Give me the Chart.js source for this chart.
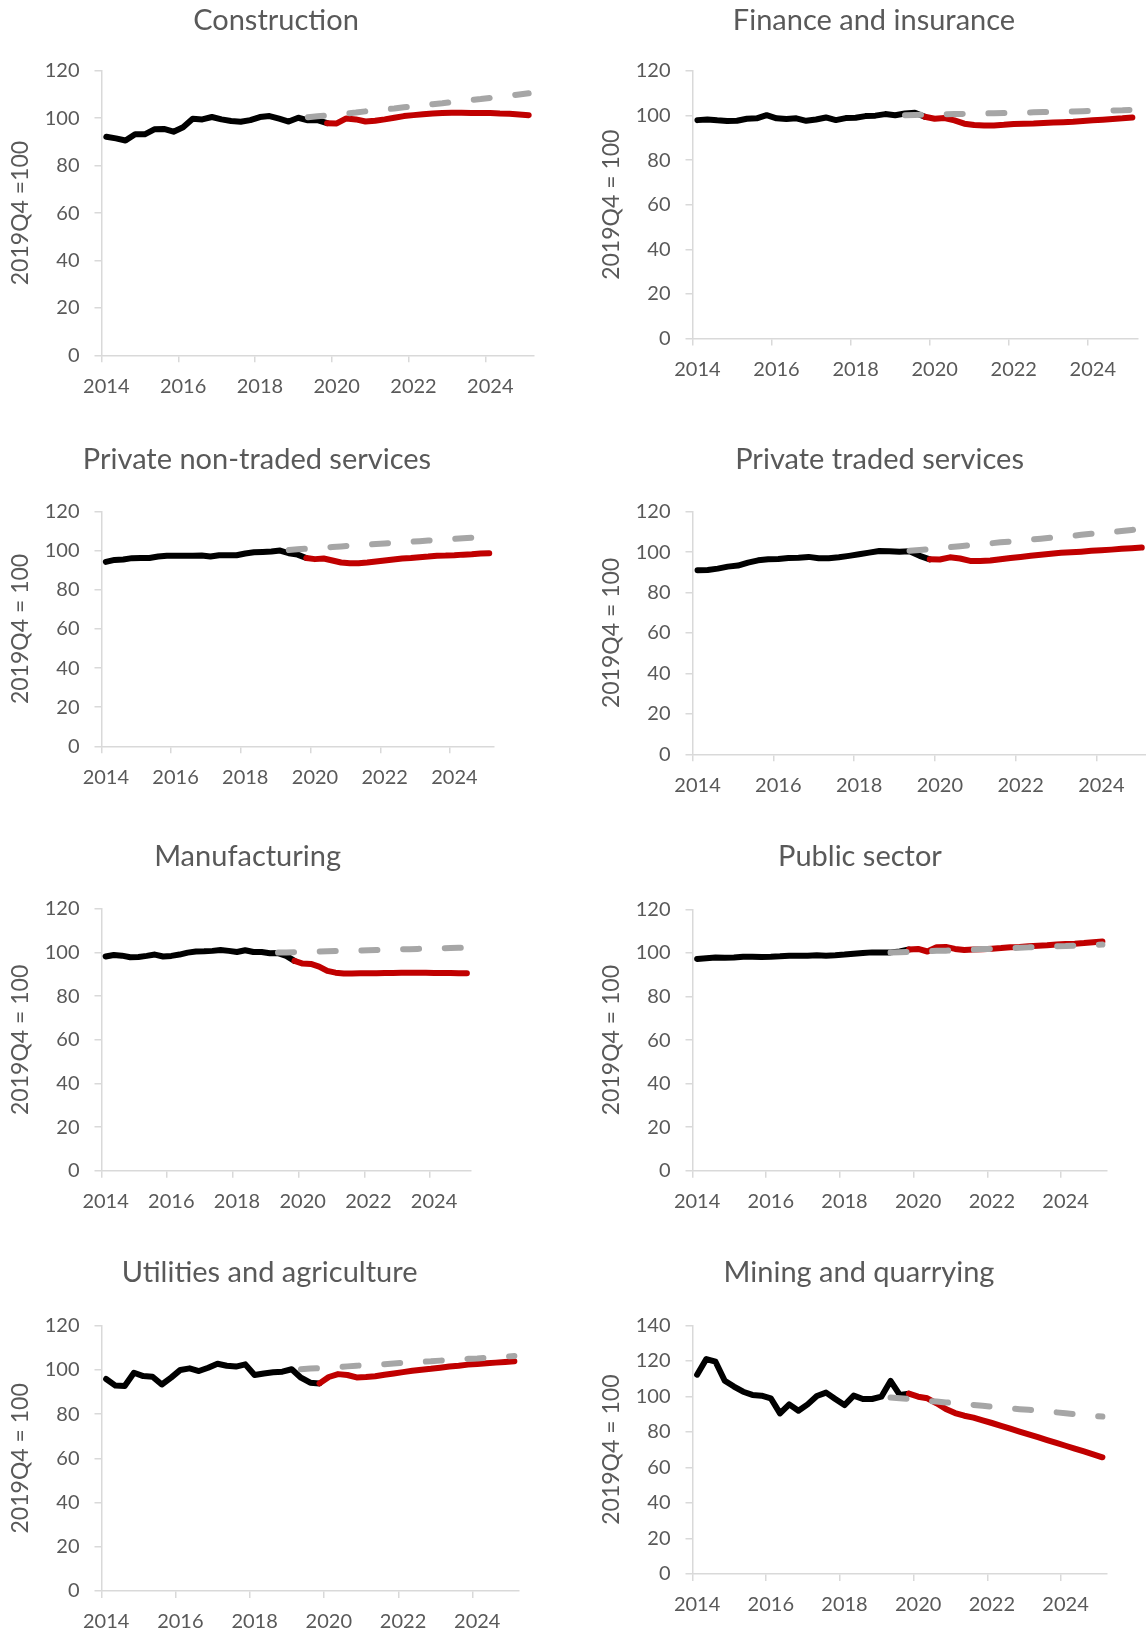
<!DOCTYPE html>
<html>
<head>
<meta charset="utf-8">
<script src="https://cdn.jsdelivr.net/npm/chart.js@4.4.1/dist/chart.umd.min.js"></script>
<style>
  html, body { margin: 0; padding: 0; background: #ffffff; }
  body { width: 1146px; height: 1634px; position: relative; overflow: hidden; }
  canvas { position: absolute; }
</style>
</head>
<body>
<script>
// Quarterly categories 2014Q1 .. 2025Q1
const years = [2014, 2015, 2016, 2017, 2018, 2019, 2020, 2021, 2022, 2023, 2024, 2025];
const quarters = [];
years.forEach(y => ['Q1', 'Q2', 'Q3', 'Q4'].forEach(q => quarters.push(y + q)));
quarters.length = 45;
const yearTicks = ['2014', '2016', '2018', '2020', '2022', '2024'];

// Output index, 2019Q4 = 100. Actual: 2014Q1-2019Q4, projection: 2019Q4-2025Q1, pre-crisis trend: 2019Q2-2025Q1
const constructionActual = [92.2, 91.5, 90.6, 93.2, 93.2, 95.3, 95.5, 94.3, 96.2, 99.8, 99.5, 100.5, 99.5, 98.8, 98.5, 99.2, 100.5, 100.9, 99.8, 98.6, 100.2, 99.1, 99.2, 97.9];
const constructionProjection = [97.9, 97.8, 99.9, 99.5, 98.6, 98.9, 99.5, 100.2, 100.9, 101.3, 101.7, 102.0, 102.2, 102.3, 102.3, 102.2, 102.2, 102.2, 102.0, 101.9, 101.6, 101.3];
const constructionTrend = [100.4, 100.8, 101.2, 101.6, 102.0, 102.4, 102.9, 103.3, 103.7, 104.1, 104.6, 105.0, 105.4, 105.9, 106.3, 106.8, 107.2, 107.7, 108.1, 108.6, 109.0, 109.5, 110.0, 110.5];

const financeActual = [97.9, 98.2, 97.8, 97.5, 97.6, 98.5, 98.7, 100.1, 98.7, 98.4, 98.7, 97.6, 98.2, 99.1, 97.9, 98.8, 99.0, 99.7, 99.9, 100.6, 100.1, 100.9, 101.2, 99.4];
const financeProjection = [99.4, 98.5, 98.8, 97.8, 96.3, 95.7, 95.5, 95.5, 95.8, 96.2, 96.3, 96.4, 96.6, 96.8, 97.0, 97.2, 97.5, 97.8, 98.1, 98.4, 98.7, 99.1];
const financeTrend = [100.1, 100.2, 100.3, 100.4, 100.5, 100.6, 100.7, 100.8, 100.9, 101.0, 101.1, 101.2, 101.3, 101.4, 101.5, 101.6, 101.7, 101.8, 101.9, 102.0, 102.1, 102.2, 102.3, 102.5];

const nonTradedActual = [94.3, 95.3, 95.5, 96.2, 96.3, 96.3, 97.0, 97.4, 97.4, 97.4, 97.4, 97.5, 97.0, 97.7, 97.7, 97.7, 98.6, 99.2, 99.4, 99.6, 100.1, 98.7, 98.0, 96.3];
const nonTradedProjection = [96.3, 95.7, 96.0, 95.0, 94.0, 93.6, 93.6, 94.0, 94.5, 95.0, 95.5, 96.0, 96.3, 96.7, 97.0, 97.4, 97.5, 97.7, 98.0, 98.2, 98.6, 98.7];
const nonTradedTrend = [100.4, 100.7, 101.0, 101.3, 101.6, 101.9, 102.2, 102.5, 102.8, 103.1, 103.4, 103.7, 104.0, 104.3, 104.6, 104.9, 105.2, 105.5, 105.8, 106.1, 106.4, 106.7, 107.0, 107.3];

const tradedActual = [91.0, 91.1, 91.8, 92.8, 93.3, 94.8, 95.9, 96.4, 96.6, 97.1, 97.2, 97.6, 96.9, 96.9, 97.4, 98.1, 98.9, 99.7, 100.5, 100.4, 100.1, 100.4, 98.1, 96.4];
const tradedProjection = [96.4, 96.3, 97.4, 96.8, 95.6, 95.6, 95.8, 96.4, 97.1, 97.6, 98.2, 98.7, 99.2, 99.6, 99.9, 100.2, 100.6, 100.9, 101.2, 101.6, 101.9, 102.2];
const tradedTrend = [100.6, 101.0, 101.5, 102.0, 102.4, 102.9, 103.4, 103.8, 104.3, 104.8, 105.2, 105.7, 106.2, 106.6, 107.1, 107.6, 108.0, 108.5, 109.0, 109.4, 109.9, 110.4, 110.9, 111.5];

const manufacturingActual = [98.2, 98.9, 98.6, 97.9, 98.0, 98.5, 99.1, 98.2, 98.5, 99.1, 100.0, 100.5, 100.6, 100.8, 101.2, 100.8, 100.3, 101.1, 100.3, 100.3, 99.7, 99.8, 98.5, 96.2];
const manufacturingProjection = [96.2, 95.0, 94.8, 93.6, 91.6, 90.8, 90.4, 90.4, 90.5, 90.5, 90.5, 90.7, 90.7, 90.8, 90.8, 90.8, 90.8, 90.7, 90.7, 90.7, 90.5, 90.5];
const manufacturingTrend = [100.0, 100.1, 100.2, 100.3, 100.4, 100.5, 100.6, 100.7, 100.8, 100.9, 101.0, 101.1, 101.2, 101.3, 101.4, 101.5, 101.6, 101.7, 101.8, 101.9, 102.0, 102.1, 102.2, 102.3];

const publicActual = [97.3, 97.6, 97.9, 97.8, 97.9, 98.3, 98.3, 98.2, 98.3, 98.5, 98.8, 98.7, 98.8, 99.0, 98.8, 99.0, 99.3, 99.7, 100.0, 100.3, 100.3, 100.3, 100.7, 101.6];
const publicProjection = [101.6, 101.9, 100.7, 102.7, 102.8, 101.9, 101.4, 101.6, 101.7, 102.0, 102.3, 102.7, 102.8, 103.1, 103.4, 103.6, 103.9, 104.2, 104.3, 104.6, 105.0, 105.3];
const publicTrend = [100.2, 100.4, 100.5, 100.7, 100.8, 101.0, 101.1, 101.3, 101.5, 101.6, 101.8, 101.9, 102.1, 102.3, 102.4, 102.6, 102.7, 102.9, 103.1, 103.2, 103.4, 103.5, 103.7, 103.9];

const utilitiesActual = [95.9, 92.9, 92.7, 98.7, 97.2, 96.9, 93.4, 96.5, 100.0, 100.7, 99.5, 101.0, 102.8, 101.9, 101.5, 102.5, 97.7, 98.4, 98.9, 99.2, 100.3, 96.5, 94.2, 93.9];
const utilitiesProjection = [93.9, 96.8, 98.1, 97.7, 96.6, 96.8, 97.1, 97.8, 98.4, 99.0, 99.6, 100.1, 100.5, 101.0, 101.5, 101.9, 102.4, 102.7, 103.0, 103.3, 103.6, 103.9];
const utilitiesTrend = [100.3, 100.6, 100.8, 101.1, 101.3, 101.6, 101.9, 102.1, 102.4, 102.6, 102.9, 103.2, 103.4, 103.7, 103.9, 104.2, 104.5, 104.7, 105.0, 105.2, 105.5, 105.8, 106.0, 106.3];

const miningActual = [112.2, 121.0, 119.5, 108.8, 105.5, 102.6, 100.8, 100.4, 98.9, 90.4, 95.5, 91.9, 95.5, 100.2, 102.1, 98.5, 95.1, 100.4, 98.5, 98.5, 99.8, 108.7, 100.8, 101.5];
const miningProjection = [101.5, 99.8, 98.9, 96.1, 92.9, 90.6, 89.1, 88.0, 86.5, 85.0, 83.4, 81.8, 80.2, 78.6, 77.0, 75.4, 73.8, 72.2, 70.6, 69.0, 67.4, 65.7];
const miningTrend = [99.4, 98.9, 98.5, 98.0, 97.5, 97.1, 96.6, 96.1, 95.6, 95.2, 94.7, 94.2, 93.8, 93.3, 92.8, 92.4, 91.9, 91.4, 91.0, 90.5, 90.0, 89.5, 89.1, 88.6];

const sectorTitles = ['Construction', 'Finance and insurance', 'Private non-traded services', 'Private traded services',
  'Manufacturing', 'Public sector', 'Utilities and agriculture', 'Mining and quarrying'];
const indexTitles = ['2019Q4 =100', '2019Q4 = 100', '2019Q4 = 100', '2019Q4 = 100',
  '2019Q4 = 100', '2019Q4 = 100', '2019Q4 = 100', '2019Q4 = 100'];
const yAxisMax = [120, 120, 120, 120, 120, 120, 120, 140];
const actualSeries = [constructionActual, financeActual, nonTradedActual, tradedActual, manufacturingActual, publicActual, utilitiesActual, miningActual];
const projectionSeries = [constructionProjection, financeProjection, nonTradedProjection, tradedProjection, manufacturingProjection, publicProjection, utilitiesProjection, miningProjection];
const trendSeries = [constructionTrend, financeTrend, nonTradedTrend, tradedTrend, manufacturingTrend, publicTrend, utilitiesTrend, miningTrend];

// Page geometry of each panel: plot box (L,R,T,B), title centre (tx,ty), axis-title centre x (yx)
const frames = [
  { x0: 0,   L: 101.5, R: 533.5,  T: 70.8,   B: 355.3,  tx: 276,   ty: 20.7,  yx: 21 },
  { x0: 573, L: 692.5, R: 1137.3, T: 70.8,   B: 338.6,  tx: 874,   ty: 20.7,  yx: 611.4 },
  { x0: 0,   L: 101.5, R: 493.6,  T: 511.6,  B: 746.3,  tx: 257,   ty: 460,   yx: 21 },
  { x0: 573, L: 692.5, R: 1146.8, T: 511.6,  B: 754.3,  tx: 879.6, ty: 460,   yx: 611.4 },
  { x0: 0,   L: 101.5, R: 471,    T: 909,    B: 1170.7, tx: 247.6, ty: 856.7, yx: 21 },
  { x0: 573, L: 692.5, R: 1107,   T: 909.5,  B: 1170.7, tx: 860,   ty: 856.7, yx: 611.4 },
  { x0: 0,   L: 101.5, R: 519,    T: 1325.7, B: 1591,   tx: 269.6, ty: 1273,  yx: 21 },
  { x0: 573, L: 692.5, R: 1107,   T: 1325.3, B: 1574,   tx: 859,   ty: 1273,  yx: 611.4 }
];

const TEXT = '#595959';
const AXIS = '#D9D9D9';
const FONT = 'Lato';
const TITLE_SIZE = 29;
const AXIS_TITLE_SIZE = 23;
const TICK_SIZE = 20;
const LINE_W = 6;

function padFront(count, values) {
  return new Array(count).fill(null).concat(values);
}

function makePanel(i) {
  const f = frames[i];
  const X0 = f.x0;
  const Y0 = Math.max(0, Math.floor(f.ty - 26));
  const W = Math.ceil(f.R - X0) + 12;
  const H = Math.ceil(f.B - Y0 + 56);
  const padRight = W - (f.R - X0);
  const padLeft = 2 * f.tx - f.R - X0;
  const yAxisWidth = (f.L - X0) - padLeft;
  const tLH = TITLE_SIZE * 1.2;
  const tPadTop = f.ty - Y0 - tLH / 2;
  const tPadBottom = (f.T - Y0) - tPadTop - tLH;
  const aLH = AXIS_TITLE_SIZE * 1.2;
  const aPad = (f.yx - X0) - padLeft - aLH / 2;
  const xAxisHeight = H - (f.B - Y0);

  const canvas = document.createElement('canvas');
  canvas.width = W;
  canvas.height = H;
  canvas.style.left = X0 + 'px';
  canvas.style.top = Y0 + 'px';
  canvas.style.width = W + 'px';
  canvas.style.height = H + 'px';
  document.body.appendChild(canvas);

  const lineBase = { pointRadius: 0, borderWidth: LINE_W, fill: false, tension: 0, clip: false, spanGaps: false };

  new Chart(canvas, {
    type: 'line',
    data: {
      labels: quarters,
      datasets: [
        Object.assign({}, lineBase, {
          label: 'Pre-crisis trend', data: padFront(21, trendSeries[i]),
          borderColor: '#A6A6A6', borderDash: [16, 25.7], borderCapStyle: 'round', borderJoinStyle: 'round'
        }),
        Object.assign({}, lineBase, {
          label: 'Projection', data: padFront(23, projectionSeries[i]),
          borderColor: '#C00000', borderCapStyle: 'round', borderJoinStyle: 'round'
        }),
        Object.assign({}, lineBase, {
          label: 'Actual', data: actualSeries[i],
          borderColor: '#000000', borderCapStyle: 'round', borderJoinStyle: 'round'
        })
      ]
    },
    options: {
      responsive: false,
      animation: false,
      devicePixelRatio: 1,
      events: [],
      layout: { padding: { left: padLeft, right: padRight, top: 0, bottom: 0 } },
      plugins: {
        legend: { display: false },
        tooltip: { enabled: false },
        title: {
          display: true, text: sectorTitles[i], color: TEXT,
          font: { family: FONT, size: TITLE_SIZE, weight: 'normal', lineHeight: 1.2 },
          padding: { top: tPadTop, bottom: tPadBottom }
        }
      },
      scales: {
        x: {
          type: 'category',
          offset: true,
          grid: {
            offset: true, drawOnChartArea: false, drawTicks: true, tickLength: 7, lineWidth: 1.5,
            color: ctx => (ctx.index % 8 === 0 ? AXIS : 'rgba(0,0,0,0)')
          },
          border: { display: true, color: AXIS, width: 1.5 },
          ticks: {
            autoSkip: false, maxRotation: 0, minRotation: 0, padding: 12, color: TEXT,
            font: { family: FONT, size: TICK_SIZE, lineHeight: 1.2 },
            callback: (value, index) => (index % 8 === 0 ? yearTicks[index / 8] : '')
          },
          afterFit: s => { s.height = xAxisHeight; }
        },
        y: {
          min: 0, max: yAxisMax[i],
          grid: { drawOnChartArea: false, drawTicks: true, tickLength: 7, lineWidth: 1.5, color: AXIS },
          border: { display: true, color: AXIS, width: 1.5 },
          ticks: { stepSize: 20, padding: 15, color: TEXT, font: { family: FONT, size: TICK_SIZE, lineHeight: 1.2 } },
          title: {
            display: true, text: indexTitles[i], color: TEXT,
            font: { family: FONT, size: AXIS_TITLE_SIZE, weight: 'normal', lineHeight: 1.2 },
            padding: { top: aPad, bottom: 0 }
          },
          afterFit: s => { s.width = yAxisWidth; }
        }
      }
    }
  });
}

for (let i = 0; i < 8; i++) makePanel(i);
</script>
</body>
</html>
